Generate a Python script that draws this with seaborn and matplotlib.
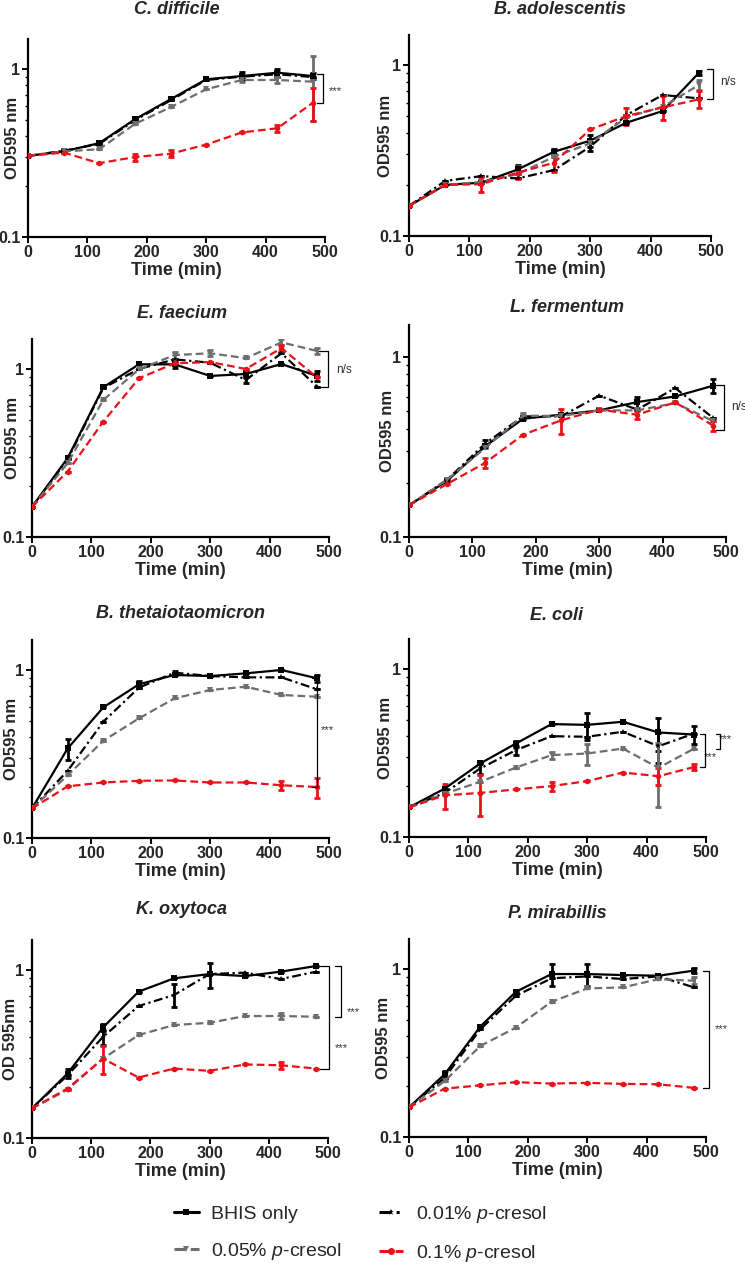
import numpy as np
import pandas as pd
import matplotlib
matplotlib.use("Agg")
import matplotlib.pyplot as plt
import seaborn as sns
from matplotlib.lines import Line2D
from matplotlib.ticker import FixedLocator, LogLocator, NullFormatter

# ---------------- data ----------------
TIME = [0, 60, 120, 180, 240, 300, 360, 420, 480]
CONDITIONS = ["BHIS only", "0.01% p-cresol", "0.05% p-cresol", "0.1% p-cresol"]
LEGEND_LABELS = ["BHIS only", "0.01% $\\mathit{p}$-cresol",
                 "0.05% $\\mathit{p}$-cresol", "0.1% $\\mathit{p}$-cresol"]
TITLES = ["C. difficile", "B. adolescentis", "E. faecium", "L. fermentum",
          "B. thetaiotaomicron", "E. coli", "K. oxytoca", "P. mirabillis"]
YLABELS = ["OD595 nm"] * 6 + ["OD 595nm", "OD595 nm"]
X_TICKS = [0, 100, 200, 300, 400, 500]
Y_TICKS = [0.1, 1]
Y_TICK_LABELS = ["0.1", "1"]

# C. difficile
CD_BHIS = [0.304, 0.323, 0.362, 0.502, 0.660, 0.868, 0.908, 0.950, 0.908]
CD_P001 = [0.304, 0.326, 0.358, 0.495, 0.650, 0.860, 0.900, 0.930, 0.895]
CD_P005 = [0.304, 0.323, 0.333, 0.471, 0.592, 0.757, 0.860, 0.860, 0.840]
CD_P01 = [0.304, 0.318, 0.275, 0.299, 0.313, 0.355, 0.419, 0.444, 0.631]
CD_BHIS_SD = [0, 0, 0, 0, 0, 0, 0.05, 0.05, 0.04]
CD_P001_SD = [0, 0, 0, 0, 0, 0, 0, 0.03, 0]
CD_P005_SD = [0, 0, 0, 0, 0, 0, 0.02, 0.04, 0.35]
CD_P01_SD = [0, 0, 0, 0.015, 0.015, 0, 0, 0.02, 0.14]

# B. adolescentis
BA_BHIS = [0.150, 0.199, 0.205, 0.245, 0.311, 0.361, 0.460, 0.538, 0.900]
BA_P001 = [0.150, 0.210, 0.224, 0.217, 0.243, 0.333, 0.510, 0.668, 0.638]
BA_P005 = [0.150, 0.199, 0.207, 0.230, 0.291, 0.348, 0.494, 0.570, 0.764]
BA_P01 = [0.150, 0.199, 0.201, 0.235, 0.268, 0.420, 0.503, 0.565, 0.630]
BA_BHIS_SD = [0, 0, 0, 0.015, 0.01, 0.03, 0, 0, 0.02]
BA_P001_SD = [0, 0, 0, 0, 0, 0.02, 0, 0, 0]
BA_P005_SD = [0, 0, 0, 0, 0, 0, 0, 0, 0.05]
BA_P01_SD = [0, 0, 0.02, 0.02, 0.03, 0, 0.06, 0.09, 0.07]

# E. faecium
EF_BHIS = [0.151, 0.295, 0.778, 1.066, 1.066, 0.909, 0.934, 1.070, 0.909]
EF_P001 = [0.151, 0.290, 0.770, 1.000, 1.140, 1.090, 0.860, 1.240, 0.785]
EF_P005 = [0.151, 0.275, 0.654, 0.995, 1.210, 1.240, 1.160, 1.440, 1.280]
EF_P01 = [0.151, 0.245, 0.486, 0.880, 1.080, 1.100, 1.000, 1.330, 0.890]
EF_BHIS_SD = [0, 0, 0, 0, 0.05, 0, 0.04, 0, 0.06]
EF_P001_SD = [0, 0, 0, 0, 0, 0, 0.03, 0, 0]
EF_P005_SD = [0, 0, 0, 0, 0.06, 0.05, 0, 0.06, 0.05]
EF_P01_SD = [0, 0, 0, 0, 0, 0, 0, 0.05, 0]

# L. fermentum
LF_BHIS = [0.150, 0.205, 0.319, 0.454, 0.478, 0.505, 0.562, 0.604, 0.693]
LF_P001 = [0.150, 0.208, 0.330, 0.468, 0.468, 0.610, 0.510, 0.672, 0.458]
LF_P005 = [0.150, 0.208, 0.312, 0.472, 0.470, 0.505, 0.505, 0.555, 0.440]
LF_P01 = [0.150, 0.197, 0.258, 0.370, 0.445, 0.510, 0.478, 0.560, 0.415]
LF_BHIS_SD = [0, 0, 0, 0, 0, 0, 0.04, 0, 0.06]
LF_P001_SD = [0, 0, 0.015, 0, 0, 0, 0, 0, 0]
LF_P005_SD = [0, 0, 0, 0.015, 0, 0, 0, 0, 0]
LF_P01_SD = [0, 0, 0.015, 0, 0.07, 0, 0.025, 0, 0.025]

# B. thetaiotaomicron
BT_BHIS = [0.150, 0.341, 0.599, 0.822, 0.934, 0.920, 0.955, 1.000, 0.892]
BT_P001 = [0.150, 0.251, 0.492, 0.785, 0.964, 0.920, 0.904, 0.904, 0.767]
BT_P005 = [0.150, 0.236, 0.379, 0.515, 0.678, 0.760, 0.795, 0.710, 0.693]
BT_P01 = [0.150, 0.203, 0.214, 0.219, 0.220, 0.214, 0.214, 0.206, 0.201]
BT_BHIS_SD = [0, 0.05, 0, 0.04, 0, 0, 0, 0, 0.04]
BT_P001_SD = [0, 0, 0, 0, 0.02, 0, 0, 0, 0]
BT_P005_SD = [0, 0, 0, 0, 0, 0, 0, 0, 0]
BT_P01_SD = [0, 0, 0, 0, 0, 0, 0, 0.012, 0.027]

# E. coli
EC_BHIS = [0.150, 0.194, 0.274, 0.360, 0.470, 0.465, 0.485, 0.419, 0.407]
EC_P001 = [0.150, 0.183, 0.256, 0.329, 0.398, 0.395, 0.423, 0.347, 0.413]
EC_P005 = [0.150, 0.181, 0.213, 0.259, 0.307, 0.314, 0.336, 0.258, 0.336]
EC_P01 = [0.150, 0.177, 0.183, 0.192, 0.201, 0.215, 0.242, 0.230, 0.261]
EC_BHIS_SD = [0, 0, 0, 0.015, 0, 0.085, 0, 0.095, 0.05]
EC_P001_SD = [0, 0, 0.02, 0.02, 0, 0, 0, 0.07, 0]
EC_P005_SD = [0, 0, 0, 0, 0.015, 0.045, 0, 0.107, 0]
EC_P01_SD = [0, 0.03, 0.05, 0, 0.012, 0, 0, 0.026, 0.01]

# K. oxytoca
KO_BHIS = [0.150, 0.242, 0.455, 0.743, 0.892, 0.946, 0.920, 0.977, 1.056]
KO_P001 = [0.150, 0.236, 0.400, 0.610, 0.710, 0.946, 0.964, 0.883, 0.977]
KO_P005 = [0.150, 0.194, 0.297, 0.410, 0.470, 0.485, 0.532, 0.532, 0.527]
KO_P01 = [0.150, 0.197, 0.297, 0.229, 0.259, 0.251, 0.274, 0.271, 0.259]
KO_BHIS_SD = [0, 0.015, 0.02, 0, 0, 0.16, 0, 0, 0]
KO_P001_SD = [0, 0, 0.04, 0, 0.11, 0, 0, 0, 0]
KO_P005_SD = [0, 0, 0, 0, 0, 0, 0, 0.02, 0]
KO_P01_SD = [0, 0, 0.055, 0, 0, 0, 0, 0.012, 0]

# P. mirabillis
PM_BHIS = [0.150, 0.236, 0.454, 0.732, 0.933, 0.933, 0.920, 0.912, 0.978]
PM_P001 = [0.150, 0.225, 0.438, 0.693, 0.880, 0.904, 0.871, 0.904, 0.777]
PM_P005 = [0.150, 0.215, 0.348, 0.448, 0.638, 0.766, 0.777, 0.870, 0.851]
PM_P01 = [0.150, 0.194, 0.203, 0.212, 0.208, 0.210, 0.207, 0.206, 0.196]
PM_BHIS_SD = [0, 0.01, 0, 0, 0.14, 0.14, 0, 0, 0.03]
PM_P001_SD = [0, 0, 0, 0, 0, 0, 0, 0, 0]
PM_P005_SD = [0, 0, 0, 0, 0, 0, 0, 0, 0.04]
PM_P01_SD = [0, 0, 0, 0, 0, 0, 0, 0, 0]

SERIES = [
    (CD_BHIS, CD_P001, CD_P005, CD_P01),
    (BA_BHIS, BA_P001, BA_P005, BA_P01),
    (EF_BHIS, EF_P001, EF_P005, EF_P01),
    (LF_BHIS, LF_P001, LF_P005, LF_P01),
    (BT_BHIS, BT_P001, BT_P005, BT_P01),
    (EC_BHIS, EC_P001, EC_P005, EC_P01),
    (KO_BHIS, KO_P001, KO_P005, KO_P01),
    (PM_BHIS, PM_P001, PM_P005, PM_P01),
]
ERRORS = [
    (CD_BHIS_SD, CD_P001_SD, CD_P005_SD, CD_P01_SD),
    (BA_BHIS_SD, BA_P001_SD, BA_P005_SD, BA_P01_SD),
    (EF_BHIS_SD, EF_P001_SD, EF_P005_SD, EF_P01_SD),
    (LF_BHIS_SD, LF_P001_SD, LF_P005_SD, LF_P01_SD),
    (BT_BHIS_SD, BT_P001_SD, BT_P005_SD, BT_P01_SD),
    (EC_BHIS_SD, EC_P001_SD, EC_P005_SD, EC_P01_SD),
    (KO_BHIS_SD, KO_P001_SD, KO_P005_SD, KO_P01_SD),
    (PM_BHIS_SD, PM_P001_SD, PM_P005_SD, PM_P01_SD),
]

# significance brackets: (x_left, x_right, y_top, y_bottom, label, label_x, label_y)
BRACKETS = [
    [(486, 497, 0.94, 0.631, "***", 518, 0.74)],
    [(493, 504, 0.944, 0.63, "n/s", 529, 0.80)],
    [(484, 498, 1.28, 0.778, "n/s", 526, 0.98)],
    [(484, 497, 0.70, 0.394, "n/s", 520, 0.53)],
    [(472, 480, 0.892, 0.201, "***", 498, 0.44)],
    [(516, 524, 0.41, 0.336, "***", 532, 0.385), (490, 499, 0.41, 0.261, "***", 508, 0.30)],
    [(511, 522, 1.056, 0.527, "***", 542, 0.565), (487, 501, 1.056, 0.259, "***", 522, 0.345)],
    [(495, 505, 0.978, 0.196, "***", 526, 0.44)],
]

# ---------------- style ----------------
sns.set_theme(style="ticks")
plt.rcParams["font.family"] = ["Liberation Sans", "DejaVu Sans"]
plt.rcParams["mathtext.fontset"] = "custom"
plt.rcParams["mathtext.it"] = "Liberation Sans:italic"
plt.rcParams["mathtext.rm"] = "Liberation Sans"

COLORS = {CONDITIONS[0]: "#000000", CONDITIONS[1]: "#000000",
          CONDITIONS[2]: "#6e6e6e", CONDITIONS[3]: "#ea1119"}
DASHES = {CONDITIONS[0]: "", CONDITIONS[1]: (4, 1.6, 1, 1.6),
          CONDITIONS[2]: (3.5, 1.8), CONDITIONS[3]: (3.5, 1.8)}
MARKERS = {CONDITIONS[0]: "s", CONDITIONS[1]: "*", CONDITIONS[2]: "v", CONDITIONS[3]: "o"}

W, H = 745, 1265
fig = plt.figure(figsize=(W / 100, H / 100), dpi=100)

# axes pixel geometry: (left, right, y at 0.1, top)
GEOM = [(28, 325, 237, 39.4), (409, 711, 236, 34.9),
        (32, 329, 537, 339.4), (409, 726, 537, 325.3),
        (32, 329, 838, 640.4), (409, 706, 837, 639.4),
        (32, 328, 1138, 940.4), (409, 706, 1137, 939.4)]
TITLE_POS = [(177, 9), (560, 10), (182, 313), (567, 308),
             (180, 613), (557, 615), (182, 910), (557, 913)]
YLABEL_X = [13, 385, 13, 387, 12, 385, 11, 384]

for i in range(8):
    L, R, yb, yt = GEOM[i]
    ax = fig.add_axes([L / W, (H - yb) / H, (R - L) / W, (yb - yt) / H])
    frames = []
    for cond, vals in zip(CONDITIONS, SERIES[i]):
        frames.append(pd.DataFrame({"time": TIME, "od": vals, "cond": cond}))
    df = pd.concat(frames, ignore_index=True)

    for cond, vals, err in zip(CONDITIONS, SERIES[i], ERRORS[i]):
        ax.errorbar(TIME, vals, yerr=err, fmt="none", ecolor=COLORS[cond],
                    elinewidth=2.0, capsize=2.5, capthick=2.0, zorder=3)

    sns.lineplot(data=df, x="time", y="od", hue="cond", style="cond",
                 hue_order=CONDITIONS, style_order=CONDITIONS,
                 palette=COLORS, dashes=DASHES, markers=MARKERS,
                 markersize=4, markeredgewidth=0, linewidth=1.6,
                 errorbar=None, legend=False, ax=ax, zorder=4)

    ax.set_yscale("log")
    ax.set_ylim(0.1, 1.5)
    ax.set_xlim(0, 500)
    ax.xaxis.set_major_locator(FixedLocator(X_TICKS))
    ax.set_xticklabels([str(t) for t in X_TICKS])
    ax.yaxis.set_major_locator(FixedLocator(Y_TICKS))
    ax.set_yticklabels(Y_TICK_LABELS)
    ax.yaxis.set_minor_locator(LogLocator(base=10, subs=np.arange(2, 10)))
    ax.yaxis.set_minor_formatter(NullFormatter())

    for s in ["top", "right"]:
        ax.spines[s].set_visible(False)
    for s in ["left", "bottom"]:
        ax.spines[s].set_linewidth(1.6)
        ax.spines[s].set_color("black")
    ax.tick_params(axis="both", which="major", length=4, width=1.4, pad=1.5,
                   labelsize=11.5, color="black")
    ax.tick_params(axis="y", which="minor", length=2.5, width=1.0, color="black")
    for lab in ax.get_xticklabels() + ax.get_yticklabels():
        lab.set_fontweight("bold")

    ax.set_xlabel("Time (min)", fontsize=13, fontweight="bold", labelpad=2)
    ax.set_ylabel(YLABELS[i], fontsize=12, fontweight="bold", va="center")
    ax.yaxis.set_label_coords((YLABEL_X[i] - L) / (R - L), 0.5)
    ax.grid(False)

    tx, ty = TITLE_POS[i]
    fig.text(tx / W, 1 - ty / H, TITLES[i], fontsize=13, fontweight="bold",
             fontstyle="italic", ha="center", va="center")

    for (xl, xr, ytop, ybot, lab, lx, ly) in BRACKETS[i]:
        ax.plot([xl, xr, xr, xl], [ytop, ytop, ybot, ybot], color="black",
                lw=0.9, clip_on=False, zorder=5)
        ax.text(lx, ly, lab, fontsize=8.5 if lab == "n/s" else 8,
                color="#333333", ha="center", va="center", clip_on=False)

# legend
handles = []
for cond, lab in zip(CONDITIONS, LEGEND_LABELS):
    kw = dict(color=COLORS[cond], lw=2.2, marker=MARKERS[cond], markersize=5,
              markeredgewidth=0, label=lab)
    if DASHES[cond] == "":
        kw["linestyle"] = "-"
    else:
        kw["dashes"] = DASHES[cond]
    handles.append(Line2D([0], [0], **kw))
order = [0, 2, 1, 3]
fig.legend([handles[k] for k in order], [LEGEND_LABELS[k] for k in order],
           ncol=2, loc="center", bbox_to_anchor=(0.484, 0.0245), frameon=False,
           fontsize=14, handlelength=1.25, handletextpad=0.65,
           columnspacing=1.9, labelspacing=0.95, borderpad=0)

fig.savefig("out.png", dpi=100)
